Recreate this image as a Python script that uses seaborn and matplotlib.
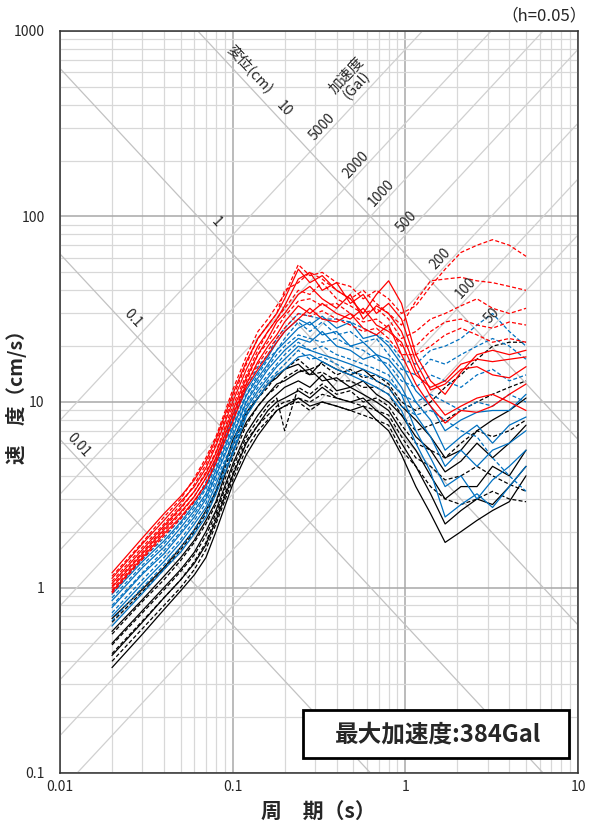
import numpy as np
import pandas as pd
import seaborn as sns
import matplotlib.pyplot as plt
import matplotlib.ticker as mtick
from matplotlib.patches import Rectangle

# ---- data -------------------------------------------------------------
# shared period grid (s)
period = [0.02, 0.03, 0.04, 0.05, 0.06, 0.07, 0.08, 0.10, 0.12, 0.14,
          0.16, 0.18, 0.20, 0.24, 0.28, 0.33, 0.40, 0.48, 0.57, 0.68,
          0.80, 0.95, 1.15, 1.4, 1.7, 2.1, 2.6, 3.2, 4.0, 5.0]

# pseudo velocity response spectra (cm/s)
red_solid = [
    [1.20, 1.85, 2.5, 3.1, 3.8, 4.8, 6.3, 11.0, 16.5, 22, 26, 30, 36, 52, 44, 48, 40, 36, 30, 38, 45, 34, 18, 13, 11, 14.5, 18, 19, 18, 19],
    [1.12, 1.72, 2.3, 2.9, 3.5, 4.4, 5.8, 10.0, 15.0, 20, 24, 28, 33, 46, 50, 40, 44, 34, 38, 30, 34, 28, 16.5, 11.6, 12.5, 15, 15.5, 14, 13.5, 15.5],
    [1.05, 1.6, 2.15, 2.7, 3.3, 4.1, 5.3, 9.0, 13.5, 18, 22, 27, 30, 38, 42, 36, 32, 38, 28, 33, 30, 24, 15, 10.7, 8.5, 9.5, 10.5, 11, 10, 9.0],
    [1.0, 1.52, 2.05, 2.55, 3.1, 3.9, 5.0, 8.5, 12.5, 16.5, 20, 23, 27, 33, 30, 34, 30, 28, 32, 26, 24, 21, 14, 12, 13, 16, 17, 16.5, 17, 17.5],
    [0.95, 1.45, 1.95, 2.4, 2.95, 3.6, 4.7, 7.8, 12, 15, 18, 21, 24, 28, 32, 28, 27, 30, 25, 23, 26, 18, 12.5, 9.5, 7.7, 9.0, 8.8, 9.5, 11, 12.5],
]
red_dashed = [
    [1.15, 1.75, 2.4, 3.0, 3.9, 5.0, 6.5, 11.6, 17.6, 24, 28, 33, 38, 55, 48, 50, 44, 42, 36, 40, 36, 30, 33, 42, 52, 64, 70, 75, 70, 61],
    [1.08, 1.65, 2.2, 2.8, 3.6, 4.6, 6.0, 10.5, 16, 22, 26, 30, 40, 44, 50, 46, 40, 36, 40, 34, 30, 26, 35, 45, 46, 47, 45, 44, 42, 40],
    [1.02, 1.55, 2.1, 2.65, 3.3, 4.2, 5.4, 9.5, 14, 19, 24, 28, 32, 40, 38, 44, 36, 33, 30, 32, 28, 22, 24, 28, 30, 33, 36, 32, 30, 32],
    [0.97, 1.48, 2.0, 2.5, 3.1, 3.9, 5.0, 8.6, 13, 18, 21, 25, 29, 35, 36, 33, 34, 30, 27, 28, 25, 20, 20, 24, 27, 28, 26, 25, 27, 26],
    [0.93, 1.42, 1.9, 2.35, 2.9, 3.6, 4.8, 8.0, 12.5, 16, 19, 22, 25, 30, 29, 31, 28, 26, 24, 25, 22, 18, 18, 20, 23, 25, 23, 21, 22, 21],
]
blue_solid = [
    [0.92, 1.38, 1.78, 2.25, 2.8, 3.5, 4.7, 8.0, 11.6, 14.5, 17.5, 21, 24, 28, 26, 29, 25, 27, 22, 23, 20, 16, 11.5, 9.5, 7.0, 8.0, 8.8, 9.0, 9.0, 11],
    [0.85, 1.28, 1.65, 2.1, 2.6, 3.2, 4.3, 7.2, 10.8, 13.5, 16, 19, 21, 25, 27, 23, 24, 20, 21, 18, 17, 14, 10, 8.0, 5.5, 6.5, 7.5, 6.0, 7.5, 8.3],
    [0.78, 1.18, 1.52, 1.95, 2.4, 3.0, 4.0, 6.5, 10, 12.5, 15, 17, 19, 22, 21, 24, 20, 19, 17, 18, 15, 12, 8.5, 6.5, 4.5, 5.5, 4.5, 5.5, 6.0, 7.0],
    [0.70, 1.05, 1.38, 1.75, 2.2, 2.7, 3.6, 5.8, 9.2, 11.5, 13.5, 15.5, 17, 20, 19, 18, 17, 16, 15, 14, 13, 11, 7.0, 5.0, 3.5, 4.0, 3.0, 3.8, 4.5, 5.5],
    [0.62, 0.93, 1.25, 1.55, 1.95, 2.4, 3.2, 5.2, 8.4, 10.5, 12.5, 14, 15, 17.5, 18, 16.5, 15, 14, 13, 12, 11, 9, 6.0, 4.2, 2.4, 2.8, 3.2, 2.7, 3.5, 4.5],
]
blue_dashed = [
    [0.95, 1.42, 1.85, 2.35, 2.9, 3.7, 4.9, 8.3, 12, 15.5, 18, 22, 25, 30, 29, 28, 28, 27, 25, 23, 21, 17, 16, 19, 20, 22, 26, 30, 24, 20],
    [0.88, 1.32, 1.72, 2.2, 2.7, 3.4, 4.5, 7.5, 11, 14, 17, 19, 22, 27, 24, 27, 23, 24, 21, 22, 18, 15, 14, 17, 16, 18, 20, 22, 20, 17],
    [0.80, 1.2, 1.58, 2.0, 2.5, 3.1, 4.1, 6.8, 10.2, 13, 15.5, 18, 20, 23, 22, 21, 22, 20, 19, 17, 16, 13, 12, 14, 13, 12, 14, 15, 13, 14],
    [0.73, 1.1, 1.45, 1.82, 2.3, 2.85, 3.8, 6.0, 9.5, 12, 14, 16, 18, 21, 19, 20, 18, 17, 16, 15, 14, 11, 10, 11, 10, 9.0, 10, 9.5, 11, 10],
    [0.66, 1.0, 1.32, 1.65, 2.05, 2.55, 3.4, 5.4, 8.8, 11, 13, 14.5, 16, 19, 17, 17.5, 16, 14.5, 14, 13, 12, 9.5, 8.5, 9.0, 8.0, 7.0, 6.5, 5.0, 4.0, 3.3],
]
black_solid = [
    [0.68, 0.98, 1.28, 1.65, 2.05, 2.6, 3.3, 6.2, 8.8, 10.5, 12.5, 13.5, 15, 16, 14, 16.5, 15, 14, 15, 13, 12, 9.5, 8.0, 6.5, 5.0, 5.5, 7.0, 8.0, 9.0, 10.5],
    [0.58, 0.86, 1.15, 1.45, 1.8, 2.3, 2.9, 5.4, 7.8, 9.5, 11, 12.5, 13, 14.5, 15, 13, 13.5, 12, 13, 11, 10, 8.5, 6.5, 5.5, 4.2, 4.8, 6.0, 5.0, 6.0, 7.5],
    [0.50, 0.75, 1.0, 1.25, 1.55, 2.0, 2.6, 4.6, 6.8, 8.5, 10, 11, 12, 13, 12, 14, 11.5, 12, 11, 10, 9.0, 7.0, 5.5, 4.0, 3.0, 3.5, 3.5, 4.5, 4.0, 5.5],
    [0.43, 0.65, 0.88, 1.1, 1.35, 1.7, 2.3, 4.0, 6.0, 7.5, 9.0, 10, 10.5, 11.5, 10.5, 12, 10.5, 10, 10.5, 9.0, 8.0, 6.0, 4.5, 3.2, 2.2, 2.6, 3.0, 2.8, 3.5, 4.5],
    [0.37, 0.56, 0.76, 0.96, 1.17, 1.45, 2.0, 3.6, 5.2, 6.6, 7.8, 9.0, 9.5, 10.5, 9.5, 10, 9.5, 9.0, 9.5, 8.0, 7.0, 5.2, 3.5, 2.5, 1.75, 2.0, 2.3, 2.6, 2.9, 4.0],
]
black_dashed = [
    [0.65, 0.95, 1.25, 1.6, 2.0, 2.5, 3.2, 5.8, 8.5, 10.5, 12, 14, 15, 17, 15, 16, 14, 15, 13.5, 14, 12.5, 10, 9.0, 10, 12, 14, 17, 20, 21, 21],
    [0.56, 0.84, 1.1, 1.4, 1.75, 2.2, 2.8, 5.0, 7.5, 9.5, 11, 12, 13.5, 15, 14, 14.5, 13, 13, 12, 12, 11, 8.5, 7.0, 7.5, 8.0, 9.0, 10, 11, 12, 13],
    [0.49, 0.73, 0.97, 1.22, 1.5, 1.9, 2.5, 4.4, 6.5, 8.0, 9.5, 10.5, 7.0, 12, 11, 12.5, 11, 11.5, 10, 10.5, 9.5, 7.5, 6.0, 5.5, 5.0, 6.0, 7.0, 6.5, 7.0, 8.0],
    [0.44, 0.66, 0.88, 1.1, 1.38, 1.75, 2.4, 4.1, 6.2, 7.5, 8.5, 9.5, 10, 10.5, 10, 11, 10.5, 10, 9.5, 9.0, 8.5, 6.5, 5.0, 4.5, 3.8, 4.0, 4.5, 4.0, 3.6, 3.3],
    [0.40, 0.60, 0.80, 1.0, 1.25, 1.6, 2.2, 3.8, 5.6, 7.0, 8.0, 9.0, 9.5, 10, 9.0, 10, 9.5, 9.0, 8.5, 8.0, 7.5, 5.5, 4.5, 3.5, 3.0, 2.8, 3.0, 3.3, 3.0, 2.9],
]

# tripartite guide lines
accel_lines = [50, 100, 200, 500, 1000, 2000, 5000]   # Gal
disp_lines = [0.01, 0.1, 1, 10]                       # cm

x_ticks = [0.01, 0.1, 1, 10]
x_tick_labels = ["0.01", "0.1", "1", "10"]
y_ticks = [0.1, 1, 10, 100, 1000]
y_tick_labels = ["0.1", "1", "10", "100", "1000"]

# ---- long table ---------------------------------------------------------
groups = [("black", "solid", black_solid), ("black", "dashed", black_dashed),
          ("blue", "solid", blue_solid), ("blue", "dashed", blue_dashed),
          ("red", "solid", red_solid), ("red", "dashed", red_dashed)]
rows = []
for color, style, curves in groups:
    for k, vals in enumerate(curves):
        for t, v in zip(period, vals):
            rows.append({"period": t, "vel": v, "color": color,
                         "style": style, "curve": f"{color}-{style}-{k}"})
df = pd.DataFrame(rows)

# ---- style --------------------------------------------------------------
sns.set_style("white")
plt.rcParams["font.family"] = ["Noto Sans CJK JP", "DejaVu Sans"]

palette = {"red": "#ff0000", "blue": "#0070c0", "black": "#000000"}
line_styles = {"solid": "-", "dashed": (0, (3.2, 1.8))}

W, H = 597, 832
fig = plt.figure(figsize=(W / 100, H / 100), dpi=100)
ax = fig.add_axes([60 / W, 59 / H, 518 / W, 742 / H])

# spectra
for color, style, _ in groups:
    sub = df[(df["color"] == color) & (df["style"] == style)]
    sns.lineplot(data=sub, x="period", y="vel", units="curve", estimator=None,
                 color=palette[color], linestyle=line_styles[style],
                 lw=0.9, ax=ax, zorder=3)

# diagonal guides
t_line = np.array([1e-3, 1e2])
for a in accel_lines:
    ax.plot(t_line, a * t_line / (2 * np.pi), color="#d0d0d0", lw=0.9, zorder=1)
for d in disp_lines:
    ax.plot(t_line, 2 * np.pi * d / t_line, color="#c2c2c2", lw=0.9, zorder=1)

ax.set_xscale("log")
ax.set_yscale("log")
ax.set_xlim(0.01, 10)
ax.set_ylim(0.1, 1000)

ax.xaxis.set_major_locator(mtick.FixedLocator(x_ticks))
ax.xaxis.set_major_formatter(mtick.FixedFormatter(x_tick_labels))
ax.yaxis.set_major_locator(mtick.FixedLocator(y_ticks))
ax.yaxis.set_major_formatter(mtick.FixedFormatter(y_tick_labels))
for axis in (ax.xaxis, ax.yaxis):
    axis.set_minor_locator(mtick.LogLocator(base=10, subs=np.arange(2, 10), numticks=20))
    axis.set_minor_formatter(mtick.NullFormatter())
ax.tick_params(which="both", length=0)
ax.tick_params(axis="x", pad=5, labelsize=10)
ax.tick_params(axis="y", pad=11, labelsize=10)
ax.grid(which="major", color="#a8a8a8", lw=1.1)
ax.grid(which="minor", color="#d8d8d8", lw=0.9)
ax.set_axisbelow(True)
ax.set_xlabel("")
ax.set_ylabel("")
for side in ax.spines:
    ax.spines[side].set_color("#303030")
    ax.spines[side].set_linewidth(1.1)

# labels on the guide lines
ang = np.degrees(np.arctan((742 / 4) / (518 / 3)))
accel_label_T = [3.39, 2.40, 1.72, 1.09, 0.781, 0.553, 0.352]
for a, t in zip(accel_lines, accel_label_T):
    ax.text(t, a * t / (2 * np.pi) * 1.02, f"{a}", rotation=ang,
            rotation_mode="anchor", ha="center", va="bottom", fontsize=10)
disp_label_T = [0.0119, 0.0248, 0.0749, 0.185]
for d, t in zip(disp_lines, disp_label_T):
    ax.text(t, 2 * np.pi * d / t * 1.05, f"{d:g}", rotation=-ang,
            rotation_mode="anchor", ha="center", va="bottom", fontsize=10)
ax.text(0.126, 620, "変位(cm)", rotation=-ang, rotation_mode="anchor",
        ha="center", va="center", fontsize=10.5)
ax.text(0.49, 540, "加速度\n(Gal)", rotation=ang, rotation_mode="anchor",
        ha="center", va="center", fontsize=10.5, linespacing=1.0)

# peak acceleration box
ax.add_patch(Rectangle((0.469, 0.0202), 0.514, 0.0647, transform=ax.transAxes,
                       facecolor="white", edgecolor="black", lw=2, zorder=5))
ax.text(0.7307, 0.0526, "最大加速度:384Gal", transform=ax.transAxes,
        ha="center", va="center", fontsize=17, fontweight="bold", zorder=6)

# axis titles and damping note
fig.text(17 / W, 1 - 392 / H, "速　度（cm/s）", rotation=90, ha="center",
         va="center", fontsize=14, fontweight="bold")
fig.text(318 / W, 1 - 812 / H, "周　期（s）", ha="center", va="center",
         fontsize=15, fontweight="bold")
fig.text(587 / W, 1 - 16 / H, "（h=0.05）", ha="right", va="center", fontsize=12)

fig.savefig("out.png", dpi=100)
